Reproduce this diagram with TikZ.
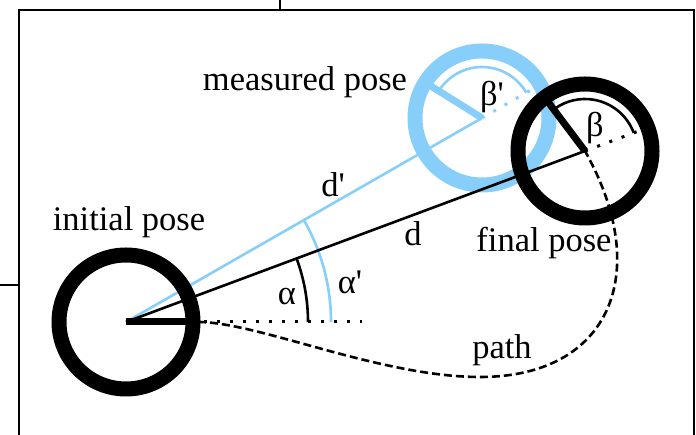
\documentclass[tikz,border=0pt]{standalone}
\usepackage{fontspec}
\newfontfamily\lib{Liberation Serif}
\definecolor{skyb}{RGB}{135,206,250}
\begin{document}
\begin{tikzpicture}[x=1pt,y=1pt,
  ring/.style={line width=15pt},
  headbar/.style={line width=7pt},
  thin/.style={line width=2.6pt},
  dotline/.style={line width=3pt,dash pattern=on 3pt off 10pt},
  pathline/.style={line width=2.6pt,dash pattern=on 8pt off 4pt},
  lbl/.style={font=\lib\fontsize{34.5}{40}\selectfont,inner sep=0pt},
  frameline/.style={line width=2pt}]
\useasboundingbox (0,0) rectangle (696,435);
% frame
\coordinate (fbl) at (18.5,-5);
\coordinate (ftl) at (18.5,424.5);
\coordinate (ftr) at (694,424.5);
\coordinate (fbr) at (694,-5);
\coordinate (tt) at (280,435);
\coordinate (ttb) at (280,424.5);
\coordinate (lt) at (0,150);
\coordinate (ltr) at (18.5,150);
\draw[frameline] (fbl) -- (ftl) -- (ftr) -- (fbr);
\draw[frameline] (tt) -- (ttb);
\draw[frameline] (lt) -- (ltr);
% poses
\coordinate (I) at (126,113);
\coordinate (F) at (585,284);
\coordinate (M) at (482,317);
% measured (blue)
\draw[thin,skyb] (I) -- (M);
\draw[thin,skyb] (I) ++(0:205) arc[start angle=0,end angle=29.8,radius=205];
\draw[dotline,skyb] (M) -- ++(29.8:60);
\draw[thin,skyb] (M) ++(29.8:51) arc[start angle=29.8,end angle=146,radius=51];
\draw[ring,skyb] (M) circle[radius=67];
\draw[headbar,skyb] (M) -- ++(148:68);
% d line and alpha
\draw[thin] (I) -- (F);
\draw[thin] (I) ++(0:182) arc[start angle=0,end angle=20.43,radius=182];
\coordinate (dotend) at (362,113);
\draw[dotline] (I) -- (dotend);
% path
\coordinate (pstart) at (198,113);
\coordinate (pbot) at (480,58);
\draw[pathline] (pstart) .. controls (258,113) and (380,58) .. (pbot)
  .. controls (610,58) and (653.5,162) .. (F);
% initial pose
\draw[ring] (I) circle[radius=67];
\draw[headbar] (I) -- ++(0:71);
% final pose
\draw[ring] (F) circle[radius=67];
\draw[headbar] (F) -- ++(127:68);
\draw[thin] (F) ++(20.43:52) arc[start angle=20.43,end angle=125,radius=52];
\draw[dotline] (F) -- ++(20.43:62);
% labels
\node[lbl] (lmeas) at (305,353) {measured pose};
\node[lbl] (linit) at (129,213) {initial pose};
\node[lbl] (lfin) at (544,192) {final pose};
\node[lbl] (lpath) at (502,85) {path};
\node[lbl] (ld) at (413,201) {d};
\node[lbl] (ldp) at (333,250) {d'};
\node[lbl] (la) at (287,138) {α};
\node[lbl] (lap) at (350,153) {α'};
\node[lbl] (lb) at (595,307) {β};
\node[lbl] (lbp) at (492,338) {β'};
\end{tikzpicture}
\end{document}
